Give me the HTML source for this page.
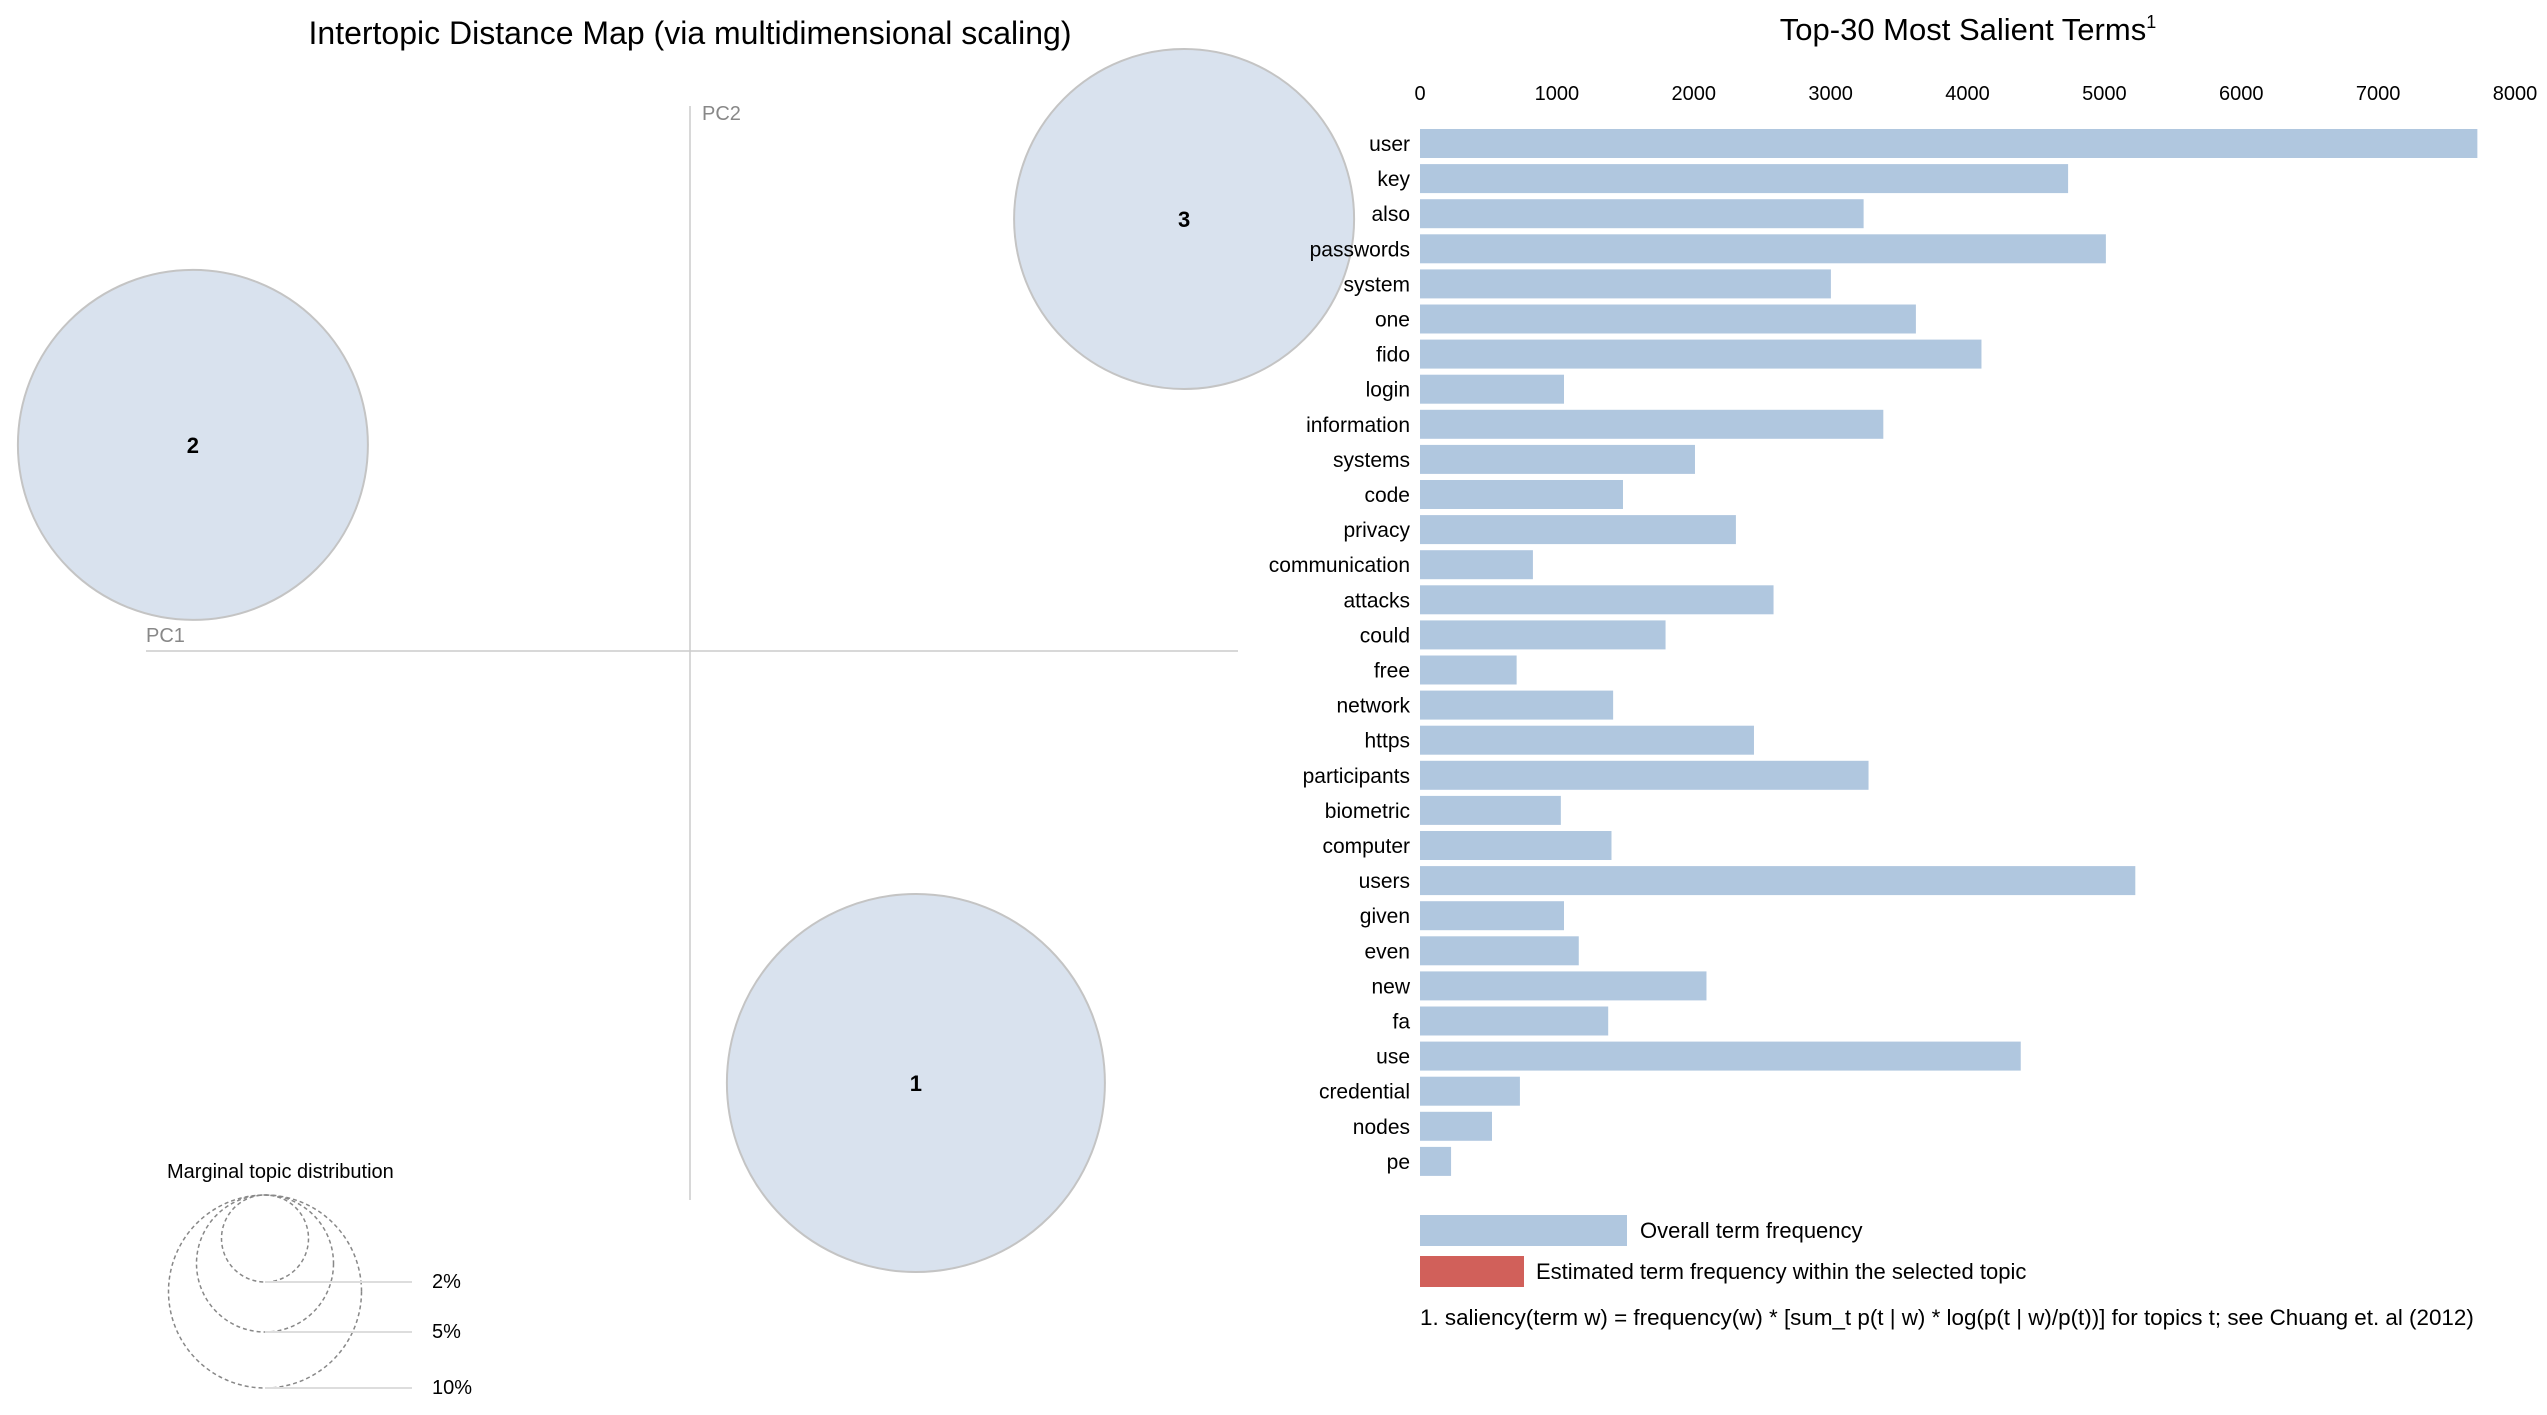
<!DOCTYPE html>
<html><head><meta charset="utf-8">
<style>
html,body{margin:0;padding:0;background:#fff;}
svg{display:block;font-family:"Liberation Sans",Arial,sans-serif;}
</style></head>
<body>
<svg id="chart" width="2547" height="1415" viewBox="0 0 2547 1415">
  <text x="690" y="44" font-size="32" text-anchor="middle" fill="#000">Intertopic Distance Map (via multidimensional scaling)</text>
  <line x1="690" y1="106" x2="690" y2="1200" stroke="#ccc" stroke-width="1.5"/>
  <line x1="146" y1="651" x2="1238" y2="651" stroke="#ccc" stroke-width="1.5"/>
  <text x="702" y="120" font-size="20" fill="#888">PC2</text>
  <text x="146" y="642" font-size="20" fill="#888">PC1</text>
  <g id="topics"></g>
  <g>
    <text x="167" y="1178" font-size="20" fill="#000">Marginal topic distribution</text>
    <circle cx="265" cy="1238.5" r="43.5" fill="none" stroke="#888" stroke-dasharray="4,3" stroke-width="1.5"/>
    <circle cx="265" cy="1263.5" r="68.5" fill="none" stroke="#888" stroke-dasharray="4,3" stroke-width="1.5"/>
    <circle cx="265" cy="1291.5" r="96.5" fill="none" stroke="#888" stroke-dasharray="4,3" stroke-width="1.5"/>
    <line x1="265" y1="1282" x2="412" y2="1282" stroke="#ddd" stroke-width="2"/>
    <line x1="265" y1="1332" x2="412" y2="1332" stroke="#ddd" stroke-width="2"/>
    <line x1="265" y1="1388" x2="412" y2="1388" stroke="#ddd" stroke-width="2"/>
    <text x="432" y="1288" font-size="20">2%</text>
    <text x="432" y="1338" font-size="20">5%</text>
    <text x="432" y="1394" font-size="20">10%</text>
  </g>
  <text x="1968" y="40" font-size="31" text-anchor="middle">Top-30 Most Salient Terms<tspan font-size="18" dy="-12">1</tspan></text>
  <g id="ticks"></g>
  <g id="bars"></g>
  <rect x="1420" y="1215" width="207" height="31" fill="#b0c7df"/>
  <text x="1640" y="1238" font-size="22">Overall term frequency</text>
  <rect x="1420" y="1256" width="104" height="31" fill="#d1605a"/>
  <text x="1536" y="1279" font-size="22">Estimated term frequency within the selected topic</text>
  <text x="1420" y="1325" font-size="22.4">1. saliency(term w) = frequency(w) * [sum_t p(t | w) * log(p(t | w)/p(t))] for topics t; see Chuang et. al (2012)</text>
</svg>
<script>
const terms = ["user","key","also","passwords","system","one","fido","login","information","systems","code","privacy","communication","attacks","could","free","network","https","participants","biometric","computer","users","given","even","new","fa","use","credential","nodes","pe"];
const freqs = [7725,4735,3241,5011,3002,3623,4102,1052,3385,2009,1483,2308,825,2583,1794,706,1411,2440,3277,1029,1399,5226,1052,1160,2093,1375,4389,730,526,227];
const tickValues = [0,1000,2000,3000,4000,5000,6000,7000,8000];
const topicIds = ["1","2","3"];
const topicPC1 = [0.0753, -0.1657, 0.1647];
const topicPC2 = [-0.144, 0.0687, 0.144];
const topicSize = [189, 175, 170];

const NS = "http://www.w3.org/2000/svg";
function xScale(v){ return 1420 + v * (2515 - 1420) / 8000; }
function yBand(i){ return 129 + i * 35.1; }
function pcX(v){ return 690 + v * 3000; }
function pcY(v){ return 651 - v * 3000; }

const tg = document.getElementById('ticks');
tickValues.forEach(t => {
  const tx = document.createElementNS(NS,'text');
  tx.setAttribute('x', xScale(t)); tx.setAttribute('y', 100);
  tx.setAttribute('font-size','20'); tx.setAttribute('text-anchor','middle');
  tx.textContent = t;
  
  
  tg.appendChild(tx);
});

const bg = document.getElementById('bars');
terms.forEach((term, i) => {
  const r = document.createElementNS(NS,'rect');
  r.setAttribute('x', xScale(0)); r.setAttribute('y', yBand(i));
  r.setAttribute('width', xScale(freqs[i]) - xScale(0)); r.setAttribute('height', 29);
  r.setAttribute('fill', '#b0c7df');
  
  
  bg.appendChild(r);
  const l = document.createElementNS(NS,'text');
  l.setAttribute('x', 1410); l.setAttribute('y', yBand(i) + 22);
  l.setAttribute('font-size','21'); l.setAttribute('text-anchor','end');
  l.textContent = term;
  
  
  bg.appendChild(l);
});

const cg = document.getElementById('topics');
topicIds.forEach((id, i) => {
  const c = document.createElementNS(NS,'circle');
  c.setAttribute('cx', pcX(topicPC1[i])); c.setAttribute('cy', pcY(topicPC2[i]));
  c.setAttribute('r', topicSize[i]);
  c.setAttribute('fill', '#d9e2ee'); c.setAttribute('stroke', '#c4c4c4'); c.setAttribute('stroke-width','2');
  
  
  cg.appendChild(c);
  const t = document.createElementNS(NS,'text');
  t.setAttribute('x', pcX(topicPC1[i])); t.setAttribute('y', pcY(topicPC2[i]) + 8);
  t.setAttribute('font-size','22'); t.setAttribute('font-weight','bold'); t.setAttribute('text-anchor','middle');
  t.textContent = id;
  
  
  cg.appendChild(t);
});
</script>
</body></html>
